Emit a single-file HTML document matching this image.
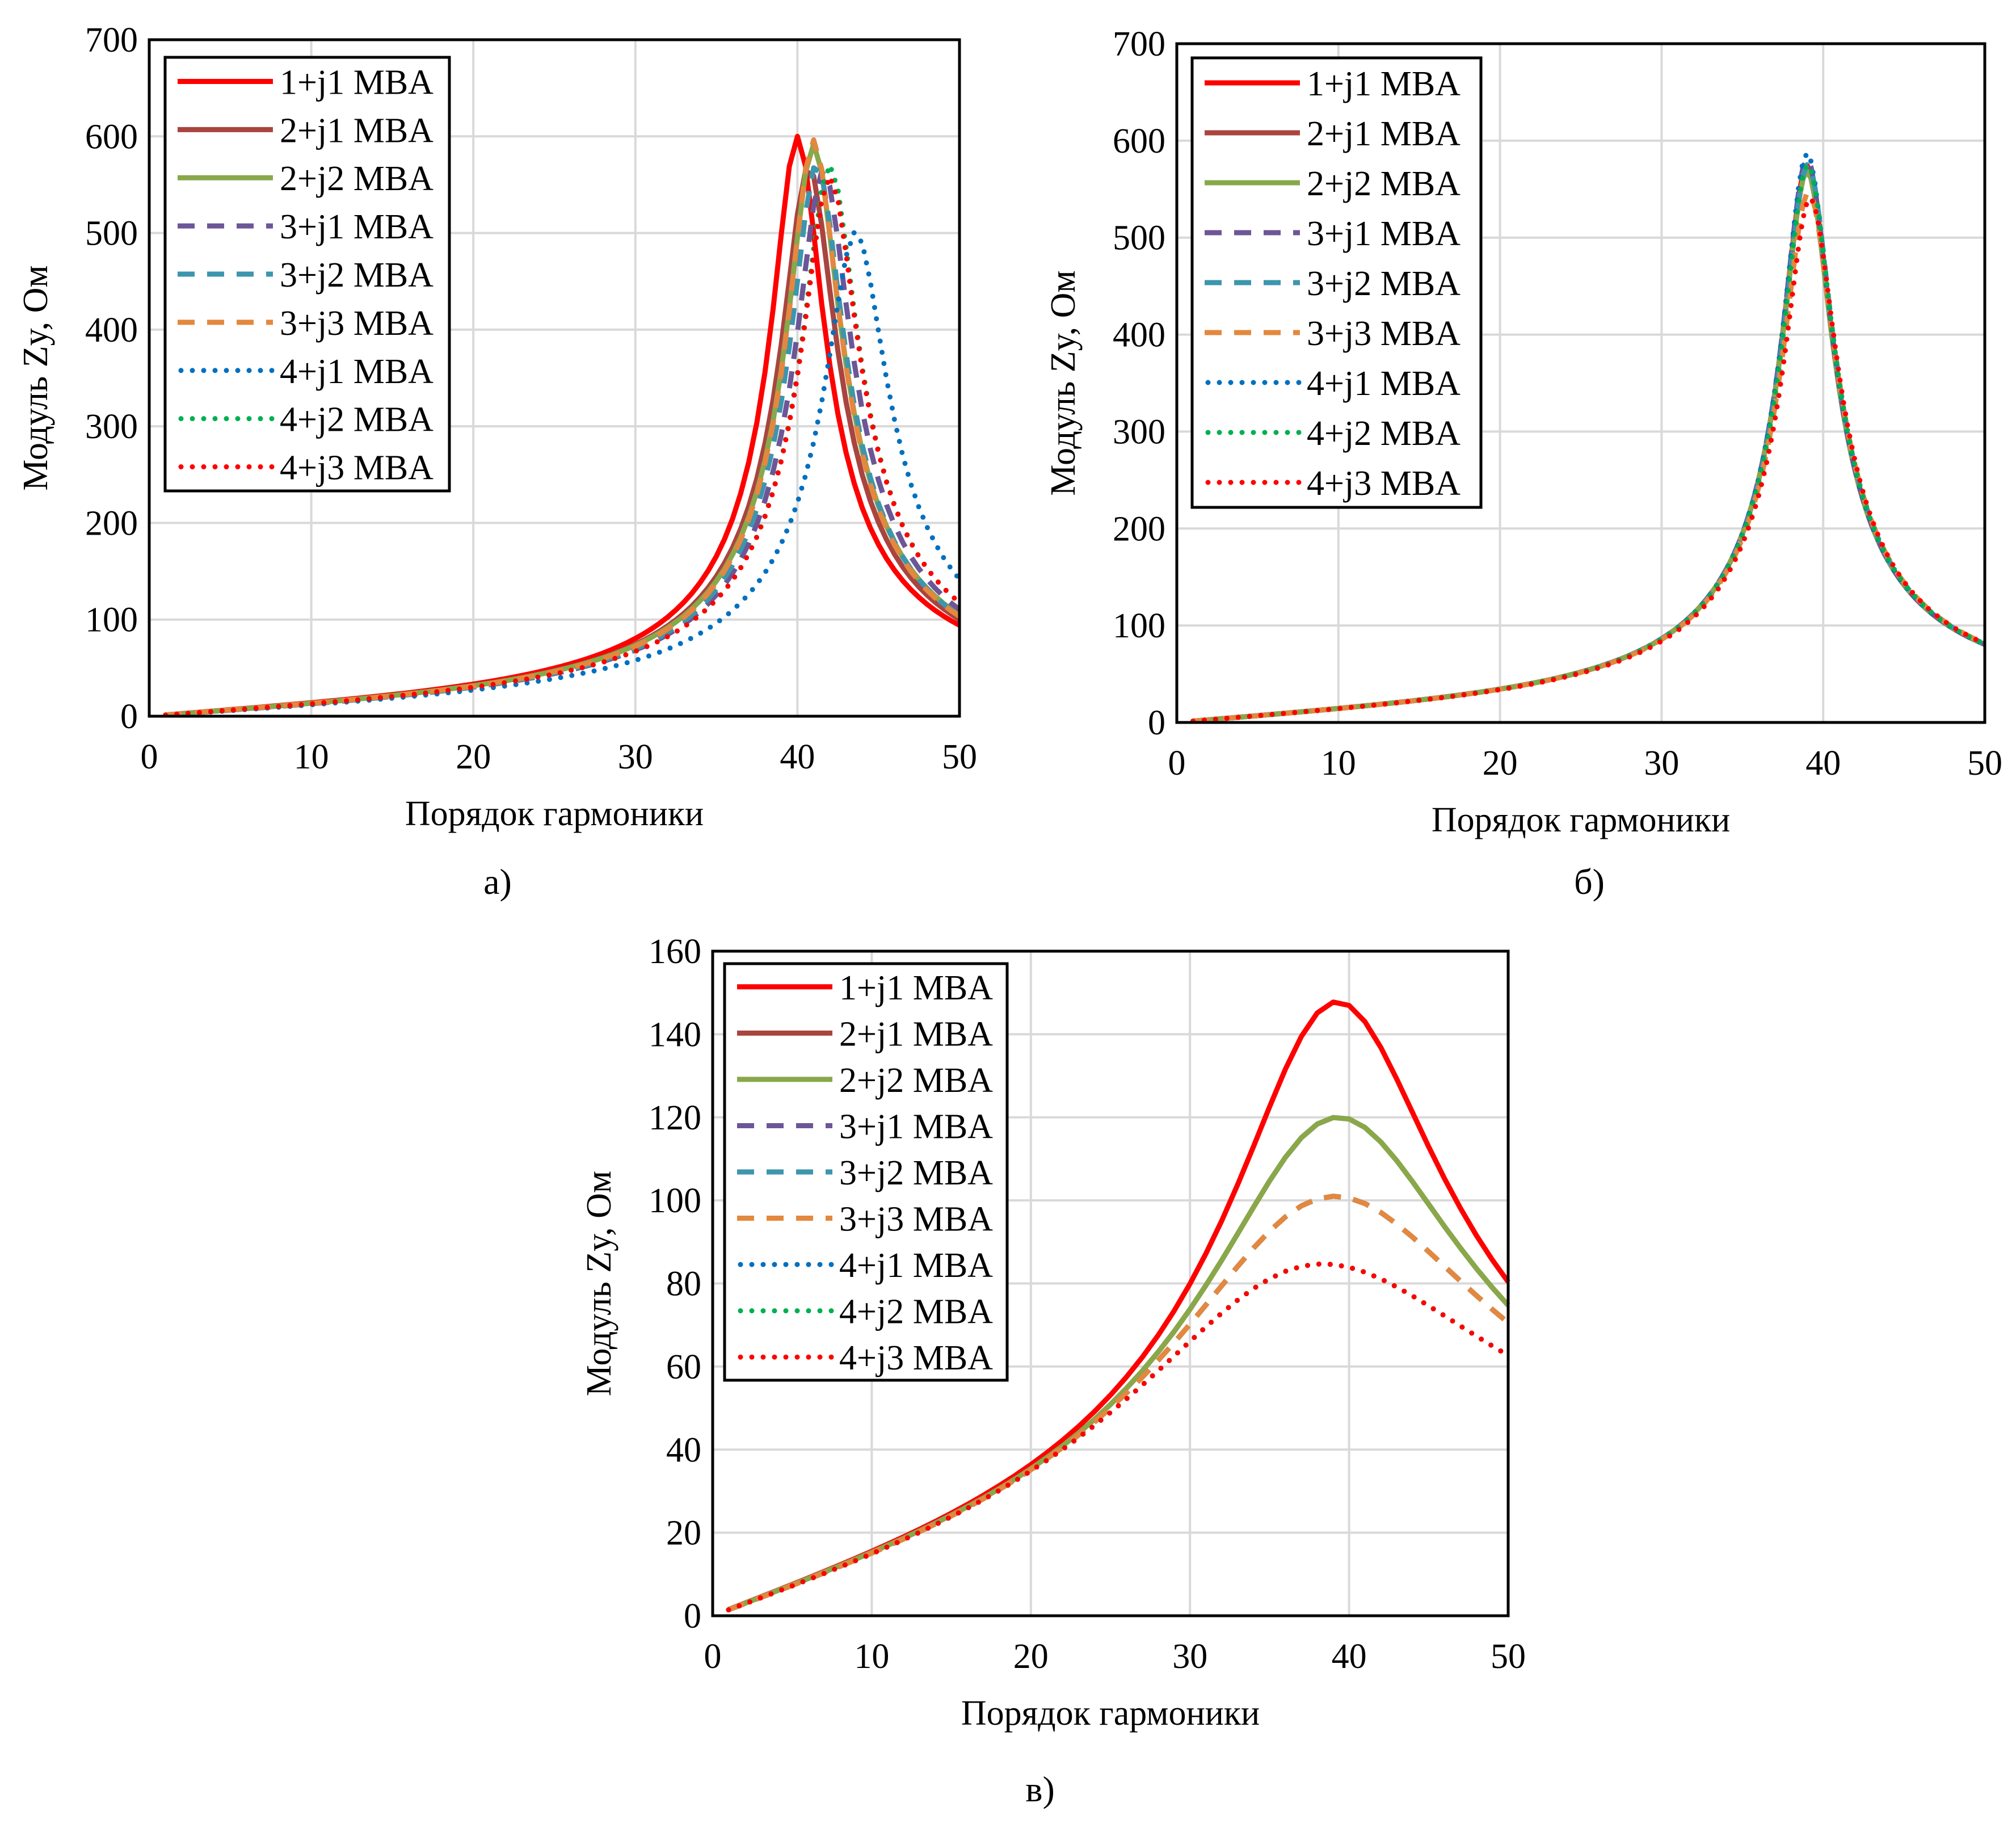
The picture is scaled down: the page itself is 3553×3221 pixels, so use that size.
<!DOCTYPE html>
<html><head><meta charset="utf-8">
<style>
html,body{margin:0;padding:0;background:#fff;}
body{width:3553px;height:3216px;overflow:hidden;}
svg text{font-family:"Liberation Serif","DejaVu Serif",serif;fill:#000;}
</style></head>
<body>
<svg id="s" xmlns="http://www.w3.org/2000/svg" width="3553" height="3216" viewBox="0 0 3553 3216">
<text x="877" y="1575" font-size="64" text-anchor="middle">а)</text>
<text x="2801" y="1575" font-size="64" text-anchor="middle">б)</text>
<text x="1833" y="3174" font-size="64" text-anchor="middle">в)</text>
</svg>
<script>
var S=document.getElementById('s'),NS='http://www.w3.org/2000/svg';
function el(t,a,txt){var e=document.createElementNS(NS,t);for(var k in a)e.setAttribute(k,a[k]);if(txt!=null)e.textContent=txt;S.appendChild(e);return e;}
var ser=[
 {n:'1+j1 MBA',c:'#FF0000',d:''},
 {n:'2+j1 MBA',c:'#A9443F',d:''},
 {n:'2+j2 MBA',c:'#88A84A',d:''},
 {n:'3+j1 MBA',c:'#6C5697',d:'30 22'},
 {n:'3+j2 MBA',c:'#3D95AE',d:'30 22'},
 {n:'3+j3 MBA',c:'#E3883E',d:'30 22'},
 {n:'4+j1 MBA',c:'#0070C0',d:'0 20'},
 {n:'4+j2 MBA',c:'#00B050',d:'0 20'},
 {n:'4+j3 MBA',c:'#FF0000',d:'0 20'}];
function Z(n,a,n0,d,p,q){var r=n/n0;var re=1-Math.pow(r,q),im=d*Math.pow(r,p);return a*n/Math.sqrt(re*re+im*im);}
function chart(o){
 var L=o.L,R=o.R,T=o.T,B=o.B,ym=o.ymax,st=o.ystep;
 function X(v){return L+(v/50)*(R-L);} function Y(v){return B-(v/ym)*(B-T);}
 for(var v=10;v<50;v+=10)el('line',{x1:X(v),x2:X(v),y1:T,y2:B,stroke:'#D9D9D9','stroke-width':4});
 for(var v=st;v<ym;v+=st)el('line',{x1:L,x2:R,y1:Y(v),y2:Y(v),stroke:'#D9D9D9','stroke-width':4});
 for(var v=0;v<=ym;v+=st)el('text',{x:L-20,y:Y(v)+21,'font-size':62,'text-anchor':'end'},v);
 for(var v=0;v<=50;v+=10)el('text',{x:X(v),y:B+92,'font-size':62,'text-anchor':'middle'},v);
 el('text',{x:(L+R)/2,y:B+192,'font-size':62,'text-anchor':'middle'},'Порядок гармоники');
 var cy=(T+B)/2;el('text',{x:0,y:0,'font-size':62,'text-anchor':'middle',transform:'translate('+(L-180)+','+cy+') rotate(-90)'},'Модуль Zy, Ом');
 for(var i=0;i<9;i++){var f=o.f[i],pts=[];
  for(var n=1;n<=50.001;n+=o.stepN){var y=Math.min(f(n),ym);pts.push(X(n).toFixed(1)+','+Y(y).toFixed(1));}
  var a={points:pts.join(' '),fill:'none',stroke:ser[i].c,'stroke-width':9,'stroke-linejoin':'round'};
  if(ser[i].d){a['stroke-dasharray']=ser[i].d;a['stroke-linecap']=ser[i].d[0]=='0'?'round':'butt';}
  el('polyline',a);}
 el('rect',{x:L,y:T,width:R-L,height:B-T,fill:'none',stroke:'#000','stroke-width':5});
 var lg=o.lg;el('rect',{x:lg.x1,y:lg.y1,width:lg.x2-lg.x1,height:lg.y2-lg.y1,fill:'#fff',stroke:'#000','stroke-width':5});
 var dy=(lg.y2-lg.y1)/9;
 for(var i=0;i<9;i++){var yy=lg.y1+dy*(i+0.5);
  var a={x1:lg.x1+22,x2:lg.x1+190,y1:yy,y2:yy,stroke:ser[i].c,'stroke-width':9};
  if(ser[i].d){a['stroke-dasharray']=ser[i].d;if(ser[i].d[0]=='0'){a['stroke-linecap']='round';a.x1=lg.x1+28;}}
  el('line',a);
  el('text',{x:lg.x1+202,y:yy+22,'font-size':62},ser[i].n);}
}
var pa=[[1.35,40,0.09],[1.3,40.7,0.093],[1.3,41,0.09],[1.25,41.6,0.092],[1.25,41.2,0.09],[1.28,41,0.088],[1.15,43.6,0.1],[1.25,42,0.092],[1.25,42,0.094]];
chart({L:263,R:1691,T:70,B:1262,ymax:700,ystep:100,stepN:0.5,
 f:pa.map(function(p){return function(n){return Z(n,p[0],p[1],p[2],1,2.4);};}),
 lg:{x1:291,y1:101,x2:792,y2:865}});
var pb=[[1.4,39,0.095],[1.4,39,0.096],[1.4,39,0.096],[1.4,39,0.094],[1.4,39.05,0.095],[1.4,39.1,0.1],[1.4,39,0.093],[1.4,39.05,0.095],[1.38,39.2,0.1]];
chart({L:2074,R:3498,T:77,B:1273,ymax:700,ystep:100,stepN:0.25,
 f:pb.map(function(p){return function(n){return Z(n,p[0],p[1],p[2],1,2.5);};}),
 lg:{x1:2101,y1:102,x2:2610,y2:894}});
var pc=[[1.5,41,0.43,2.4],[1.48,42,0.545,2.4],[1.48,42,0.545,2.4],[1.45,43.5,0.68,2.2],[1.45,43.5,0.68,2.2],[1.45,43.5,0.68,2.2],[1.42,45.5,0.88,2.0],[1.42,45.5,0.88,2.0],[1.42,45.5,0.88,2.0]];
chart({L:1256,R:2658,T:1676,B:2847,ymax:160,ystep:20,stepN:1,
 f:pc.map(function(p){return function(n){return Z(n,p[0],p[1],p[2],2.5,p[3]);};}),
 lg:{x1:1277,y1:1698,x2:1775,y2:2432}});
</script>
</body></html>
